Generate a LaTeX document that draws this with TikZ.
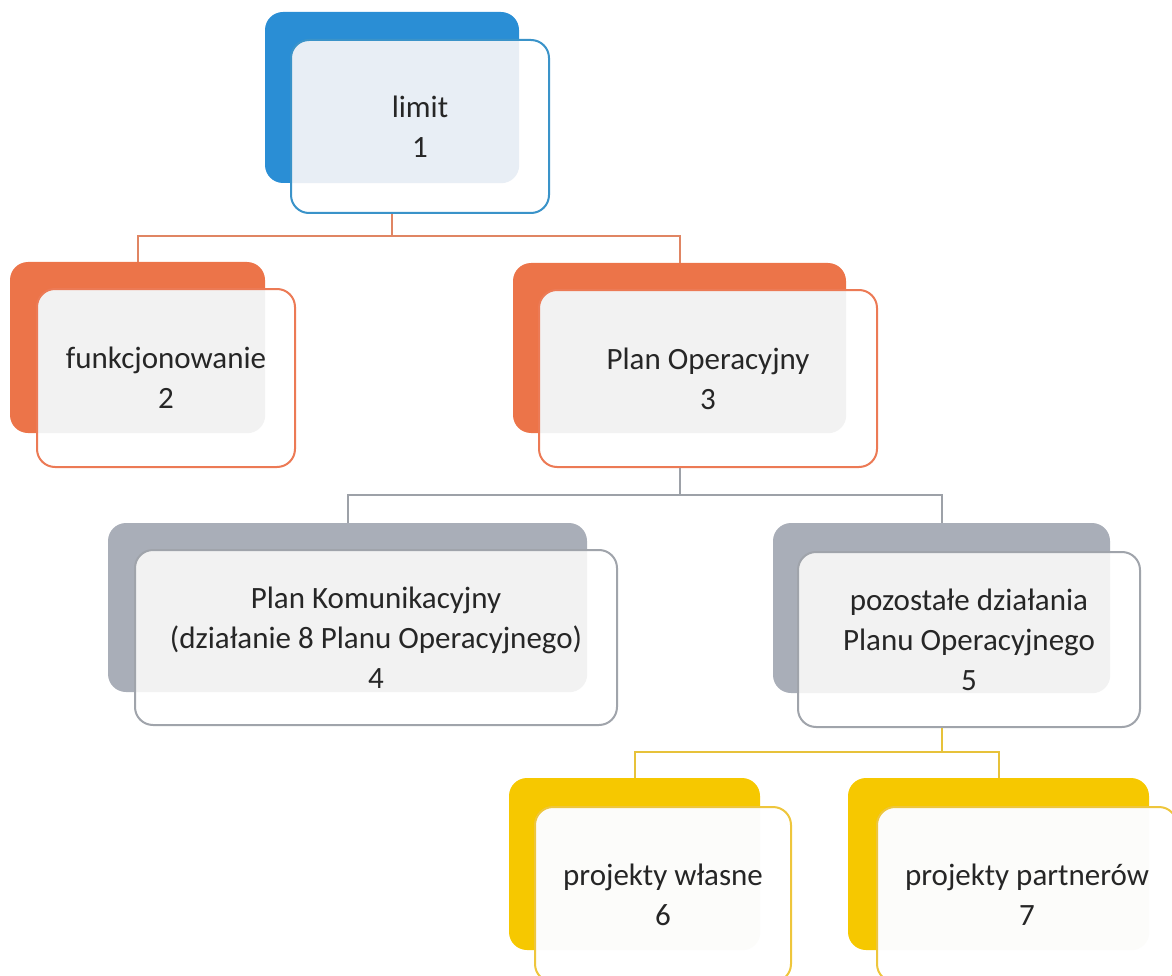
\documentclass[tikz,border=0pt]{standalone}
\usepackage{fontspec}
\setmainfont{Carlito}
\definecolor{blueB}{HTML}{2A8ED5}
\definecolor{blueL}{HTML}{3A93C9}
\definecolor{blueT}{HTML}{E8EEF5}
\definecolor{orangeB}{HTML}{EC7449}
\definecolor{orangeL}{HTML}{EC7A55}
\definecolor{grayB}{HTML}{A9AEB8}
\definecolor{grayL}{HTML}{A0A4AB}
\definecolor{yellowB}{HTML}{F6C800}
\definecolor{yellowL}{HTML}{EEC63C}
\definecolor{tintG}{HTML}{F2F2F2}
\definecolor{tintY}{HTML}{FCFCFA}
\definecolor{lineO}{HTML}{E08563}
\definecolor{lineG}{HTML}{9DA1A8}
\definecolor{lineY}{HTML}{E7C23A}
\definecolor{textc}{HTML}{262626}
\begin{document}
\begin{tikzpicture}[x=1pt,y=-1pt,
  backbox/.style={rectangle, rounded corners=18pt, inner sep=0pt},
  frontbox/.style n args={3}{rectangle, rounded corners=18pt, draw=#1, line width=2pt,
     fill=white, align=center, inner sep=0pt, text=textc,
     font=\fontsize{31}{40}\selectfont,
     path picture={\fill[#2, rounded corners=18pt] (#3.north west) rectangle (#3.south east);}},
  conn/.style={line width=2pt}
]
\useasboundingbox (0,0) rectangle (1172,976);

% level coordinates
\coordinate (m1) at (0,236);
\coordinate (m2) at (0,495);
\coordinate (m3) at (0,752);

% back boxes
\node[backbox, fill=blueB, minimum width=254pt, minimum height=171pt] (b1) at (392,97.5) {};
\node[backbox, fill=orangeB, minimum width=255pt, minimum height=171pt] (b2) at (137.5,347.5) {};
\node[backbox, fill=orangeB, minimum width=333pt, minimum height=170pt] (b3) at (679.5,348) {};
\node[backbox, fill=grayB, minimum width=479pt, minimum height=169pt] (b4) at (347.5,607.5) {};
\node[backbox, fill=grayB, minimum width=337pt, minimum height=170pt] (b5) at (941.5,608) {};
\node[backbox, fill=yellowB, minimum width=251pt, minimum height=172pt] (b6) at (634.5,864) {};
\node[backbox, fill=yellowB, minimum width=301pt, minimum height=172pt] (b7) at (998.5,864) {};

% front boxes
\node[frontbox={blueL}{blueT}{b1}, minimum width=258pt, minimum height=173pt] (f1) at (420,126.5) {limit\\1};
\node[frontbox={orangeL}{tintG}{b2}, minimum width=258pt, minimum height=178pt] (f2) at (166,378) {funkcjonowanie\\2};
\node[frontbox={orangeL}{tintG}{b3}, minimum width=338pt, minimum height=177pt] (f3) at (708,378.5) {Plan Operacyjny\\3};
\node[frontbox={grayL}{tintG}{b4}, minimum width=482pt, minimum height=175pt] (f4) at (376,637.5) {Plan Komunikacyjny\\(działanie 8 Planu Operacyjnego)\\4};
\node[frontbox={grayL}{tintG}{b5}, minimum width=342pt, minimum height=175pt] (f5) at (969,639.5) {pozostałe działania\\Planu Operacyjnego\\5};
\node[frontbox={yellowL}{tintY}{b6}, minimum width=256pt, minimum height=175pt] (f6) at (663,894.5) {projekty własne\\6};
\node[frontbox={yellowL}{tintY}{b7}, minimum width=300pt, minimum height=175pt] (f7) at (1027,894.5) {projekty partnerów\\7};

% connectors
\draw[conn, lineO] (b1.south |- f1.south) -- (b1.south |- m1) -| (b2.north);
\draw[conn, lineO] (b1.south |- m1) -| (b3.north);
\draw[conn, lineG] (b3.south |- f3.south) -- (b3.south |- m2) -| (b4.north);
\draw[conn, lineG] (b3.south |- m2) -| (b5.north);
\draw[conn, lineY] (b5.south |- f5.south) -- (b5.south |- m3) -| (b6.north);
\draw[conn, lineY] (b5.south |- m3) -| (b7.north);
\end{tikzpicture}
\end{document}
